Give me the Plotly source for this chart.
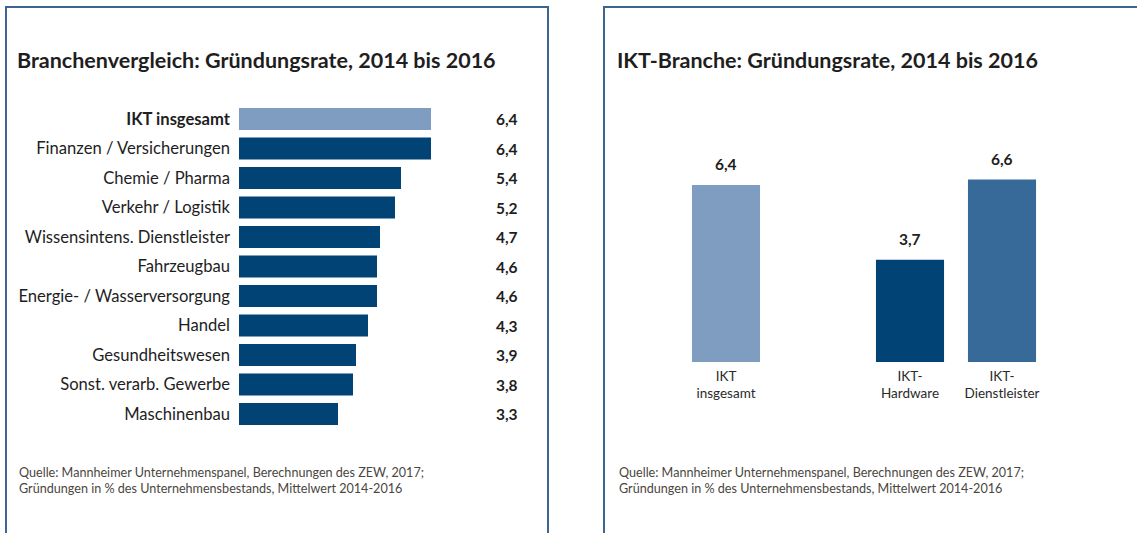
import plotly.graph_objects as go

# Branchenvergleich (linkes Panel)
branchen = [
    "IKT insgesamt",
    "Finanzen / Versicherungen",
    "Chemie / Pharma",
    "Verkehr / Logistik",
    "Wissensintens. Dienstleister",
    "Fahrzeugbau",
    "Energie- / Wasserversorgung",
    "Handel",
    "Gesundheitswesen",
    "Sonst. verarb. Gewerbe",
    "Maschinenbau",
]
branchen_rate = [6.4, 6.4, 5.4, 5.2, 4.7, 4.6, 4.6, 4.3, 3.9, 3.8, 3.3]

# IKT-Branche (rechtes Panel)
ikt_labels = ["IKT<br>insgesamt", "IKT-<br>Hardware", "IKT-<br>Dienstleister"]
ikt_pos = [0, 2, 3]
ikt_rate = [6.4, 3.7, 6.6]

W, H = 1137, 533
FONT = "Lato"
LIGHT = "#7f9cc1"
DARK = "#004374"
MID = "#376a99"
BORDER = "#3b6592"
TXT = "#1e1e1e"


def px_x(p):
    return p / W


def px_y(p):
    return 1 - p / H


def de(v):
    return f"{v:.1f}".replace(".", ",")


fig = go.Figure()

bar_colors = [LIGHT] + [DARK] * (len(branchen) - 1)
fig.add_trace(go.Bar(
    x=branchen_rate, y=branchen, orientation="h",
    marker=dict(color=bar_colors, line=dict(width=0)),
    xaxis="x", yaxis="y", hoverinfo="skip", showlegend=False,
))

fig.add_trace(go.Bar(
    x=ikt_pos, y=ikt_rate, width=0.74,
    marker=dict(color=[LIGHT, DARK, MID], line=dict(width=0)),
    xaxis="x2", yaxis="y2", hoverinfo="skip", showlegend=False,
))

# Left axes: 30 px per unit, bars start at x=239 px
row = 29.5
y_top, y_bot = 119 - row / 2, 414 + row / 2
tick_text = ["<b>" + branchen[0] + "</b>"] + branchen[1:]

fig.update_layout(
    width=W, height=H,
    margin=dict(l=0, r=0, t=0, b=0),
    paper_bgcolor="white", plot_bgcolor="white",
    font=dict(family=FONT, color=TXT),
    bargap=0.25,
    xaxis=dict(domain=[px_x(239), px_x(239 + 30 * 7)], range=[0, 7],
               visible=False, fixedrange=True),
    yaxis=dict(domain=[px_y(y_bot), px_y(y_top)], type="category",
               categoryorder="array", categoryarray=branchen,
               autorange="reversed", tickvals=branchen, ticktext=tick_text,
               tickfont=dict(size=16.6, color=TXT, family=FONT),
               ticks="", showline=False, showgrid=False, zeroline=False,
               ticklabelstandoff=8, anchor="x"),
    xaxis2=dict(domain=[px_x(726 - 0.75 * 92), px_x(726 + 3.75 * 92)],
                range=[-0.75, 3.75], tickvals=ikt_pos, ticktext=ikt_labels,
                tickfont=dict(size=13.5, color="#2a2a2a", family=FONT),
                showline=False, showgrid=False, zeroline=False, ticks="",
                ticklabelstandoff=4, anchor="y2"),
    yaxis2=dict(domain=[px_y(362), px_y(362 - 27.65 * 8)], range=[0, 8],
                visible=False, anchor="x2"),
)

annotations = []
# Value column, left panel
for cat, v in zip(branchen, branchen_rate):
    annotations.append(dict(
        x=px_x(520), xref="paper", xanchor="right",
        y=cat, yref="y", yanchor="middle",
        text="<b>" + de(v) + "</b>", showarrow=False,
        font=dict(size=15.5, color=TXT, family=FONT),
    ))
# Value labels above the IKT bars
for p, v in zip(ikt_pos, ikt_rate):
    annotations.append(dict(
        x=p, xref="x2", y=v, yref="y2", yanchor="bottom", yshift=10,
        text="<b>" + de(v) + "</b>", showarrow=False,
        font=dict(size=15.5, color=TXT, family=FONT),
    ))

titles = [
    (15, "Branchenvergleich: Gründungsrate, 2014 bis 2016", 21.5),
    (615, "IKT-Branche: Gründungsrate, 2014 bis 2016", 21.5),
]
for x0, t, sz in titles:
    annotations.append(dict(
        x=px_x(x0), y=px_y(60), xref="paper", yref="paper",
        xanchor="left", yanchor="middle", text="<b>" + t + "</b>",
        showarrow=False, font=dict(size=sz, color=TXT, family=FONT),
    ))

quelle = ("Quelle: Mannheimer Unternehmenspanel, Berechnungen des ZEW, 2017;<br>"
          "Gründungen in % des Unternehmensbestands, Mittelwert 2014-2016")
for x0 in (17, 617):
    annotations.append(dict(
        x=px_x(x0), y=px_y(480), xref="paper", yref="paper",
        xanchor="left", yanchor="middle", align="left", text=quelle,
        showarrow=False, font=dict(size=12.6, color="#4a4640", family=FONT),
    ))

fig.update_layout(annotations=annotations)

# Panel frames (open at the bottom / right edge)
frame = dict(color=BORDER, width=2)
shapes = [
    dict(type="path", xref="paper", yref="paper",
         path=f"M {px_x(6)},{px_y(H + 5)} L {px_x(6)},{px_y(7)} "
              f"L {px_x(548)},{px_y(7)} L {px_x(548)},{px_y(H + 5)}",
         line=frame),
    dict(type="path", xref="paper", yref="paper",
         path=f"M {px_x(604)},{px_y(H + 5)} L {px_x(604)},{px_y(7)} "
              f"L {px_x(W + 5)},{px_y(7)}",
         line=frame),
]
fig.update_layout(shapes=shapes)

fig.write_html("out.html", config=dict(displayModeBar=False))
